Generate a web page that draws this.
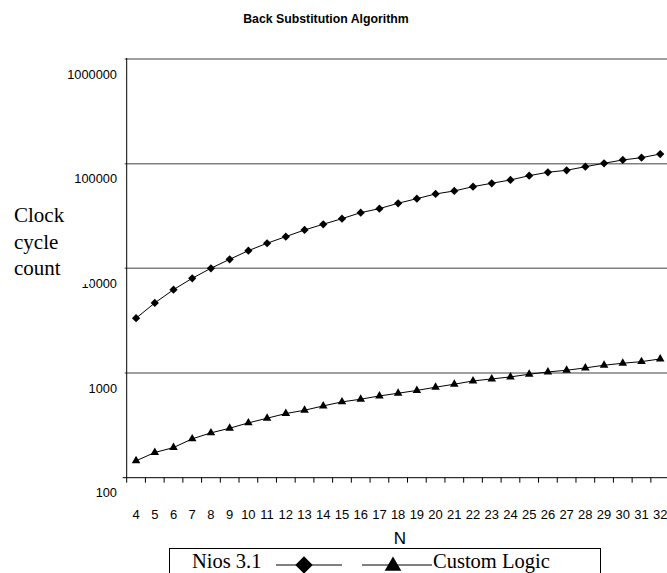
<!DOCTYPE html>
<html>
<head>
<meta charset="utf-8">
<script src="https://cdn.jsdelivr.net/npm/d3@7"></script>
<style>
  body { margin: 0; background: #fff; }
  svg { display: block; }
</style>
</head>
<body>
<div id="chart"></div>
<script>
const width = 667,
  height = 573;

// data
const nValues = [4, 5, 6, 7, 8, 9, 10, 11, 12, 13, 14, 15, 16, 17, 18, 19, 20,
  21, 22, 23, 24, 25, 26, 27, 28, 29, 30, 31, 32];
const niosCycles = [3340, 4670, 6260, 8040, 10020, 12200, 14760, 17370, 20090,
  23270, 26380, 29830, 34040, 37180, 41870, 46320, 51380, 54870, 60300, 65000,
  69870, 76800, 82770, 86470, 93590, 100900, 108500, 114100, 123700];
const customCycles = [145, 174, 194, 235, 268, 297, 334, 370, 410, 441, 485,
  530, 562, 604, 641, 682, 732, 782, 840, 878, 918, 974, 1024, 1064, 1119,
  1187, 1240, 1285, 1363];
const yTicks = [100, 1000, 10000, 100000, 1000000];

const plotLeft = 126.7,
  plotTop = 59,
  plotBottom = 477.7,
  band = 18.72;

const svg = d3
  .select("#chart")
  .append("svg")
  .attr("width", width)
  .attr("height", height);

const xScale = d3
  .scaleBand()
  .domain(nValues)
  .range([plotLeft, plotLeft + band * nValues.length])
  .padding(0);

const yScale = d3
  .scaleLog()
  .domain([100, 1000000])
  .range([plotBottom, plotTop]);

// title
svg
  .append("text")
  .attr("x", 326)
  .attr("y", 23)
  .attr("text-anchor", "middle")
  .style("font-family", "Liberation Sans, Arial, sans-serif")
  .style("font-weight", "bold")
  .style("font-size", "12.3px")
  .text("Back Substitution Algorithm");

// gridlines
svg
  .append("g")
  .selectAll("line")
  .data(yTicks.slice(1))
  .enter()
  .append("line")
  .attr("x1", plotLeft - 2)
  .attr("x2", width)
  .attr("y1", (d) => yScale(d))
  .attr("y2", (d) => yScale(d))
  .attr("stroke", "#808080")
  .attr("stroke-width", 1.5);

// y axis line
svg
  .append("line")
  .attr("x1", plotLeft)
  .attr("x2", plotLeft)
  .attr("y1", plotTop - 1)
  .attr("y2", plotBottom)
  .attr("stroke", "#000");

// y labels (sit below their gridlines, as in the original)
svg
  .append("g")
  .selectAll("text")
  .data(yTicks)
  .enter()
  .append("text")
  .attr("x", 117)
  .attr("y", (d) => yScale(d) + 19.5)
  .attr("text-anchor", "end")
  .style("font-family", "Liberation Sans, Arial, sans-serif")
  .style("font-size", "12.8px")
  .text((d) => d);

// x axis
const xAxis = svg
  .append("g")
  .attr("transform", `translate(0, ${plotBottom})`);

xAxis
  .append("line")
  .attr("x1", plotLeft - 4)
  .attr("x2", width)
  .attr("stroke", "#000");

xAxis
  .selectAll(".tk")
  .data(nValues)
  .enter()
  .append("line")
  .attr("class", "tk")
  .attr("x1", (d) => xScale(d))
  .attr("x2", (d) => xScale(d))
  .attr("y1", 0)
  .attr("y2", 5)
  .attr("stroke", "#000");

xAxis
  .selectAll("text")
  .data(nValues)
  .enter()
  .append("text")
  .attr("x", (d) => xScale(d) + xScale.bandwidth() / 2)
  .attr("y", 41.5)
  .attr("text-anchor", "middle")
  .style("font-family", "Liberation Sans, Arial, sans-serif")
  .style("font-size", "13px")
  .text((d) => d);

svg
  .append("text")
  .attr("x", 400)
  .attr("y", 544)
  .attr("text-anchor", "middle")
  .style("font-family", "Liberation Sans, Arial, sans-serif")
  .style("font-size", "17px")
  .text("N");

// y title with its white box (hides part of a label)
svg
  .append("rect")
  .attr("x", 0)
  .attr("y", 198)
  .attr("width", 90)
  .attr("height", 86)
  .attr("fill", "#fff");

svg
  .append("text")
  .style("font-family", "Liberation Serif, 'Times New Roman', serif")
  .style("font-size", "21px")
  .selectAll("tspan")
  .data(["Clock", "cycle", "count"])
  .enter()
  .append("tspan")
  .attr("x", 14)
  .attr("y", (d, i) => 222 + i * 26.7)
  .text((d) => d);

// lines
const line = d3
  .line()
  .x((d, i) => xScale(nValues[i]) + xScale.bandwidth() / 2)
  .y((d) => yScale(d));

const diamond = d3.symbol(d3.symbolSquare, 34);
const triangle = d3.symbol(d3.symbolTriangle, 32);

function drawSeries(values, sym) {
  svg
    .append("path")
    .attr("d", line(values))
    .attr("fill", "none")
    .attr("stroke", "#000")
    .attr("stroke-width", 1);

  svg
    .append("g")
    .selectAll("path")
    .data(values)
    .enter()
    .append("path")
    .attr("d", sym)
    .attr("fill", "#000")
    .attr("transform", (d, i) => {
      let x = xScale(nValues[i]) + xScale.bandwidth() / 2;
      let rot = sym === diamond ? " rotate(45)" : "";
      return `translate(${x}, ${yScale(d)})${rot}`;
    });
}

drawSeries(niosCycles, diamond);
drawSeries(customCycles, triangle);

// legend
const legend = svg.append("g");

legend
  .append("rect")
  .attr("x", 169.5)
  .attr("y", 548.5)
  .attr("width", 431)
  .attr("height", 40)
  .attr("fill", "#fff")
  .attr("stroke", "#000");

legend
  .append("text")
  .attr("x", 192)
  .attr("y", 568)
  .style("font-family", "Liberation Serif, 'Times New Roman', serif")
  .style("font-size", "20.5px")
  .text("Nios 3.1");

legend
  .append("line")
  .attr("x1", 276)
  .attr("x2", 342)
  .attr("y1", 565)
  .attr("y2", 565)
  .attr("stroke", "#000");

legend
  .append("path")
  .attr("d", d3.symbol(d3.symbolSquare, 150)())
  .attr("transform", "translate(304, 565) rotate(45)");

legend
  .append("line")
  .attr("x1", 362)
  .attr("x2", 432)
  .attr("y1", 565)
  .attr("y2", 565)
  .attr("stroke", "#000");

legend
  .append("path")
  .attr("d", d3.symbol(d3.symbolTriangle, 120)())
  .attr("transform", "translate(393, 566)");

legend
  .append("text")
  .attr("x", 433)
  .attr("y", 568)
  .style("font-family", "Liberation Serif, 'Times New Roman', serif")
  .style("font-size", "20.5px")
  .text("Custom Logic");
</script>
</body>
</html>
